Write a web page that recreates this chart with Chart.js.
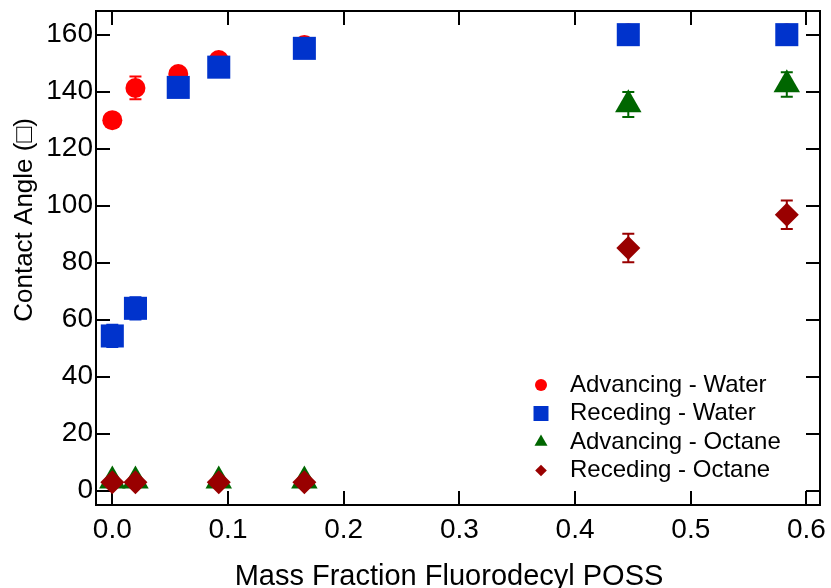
<!DOCTYPE html>
<html><head><meta charset="utf-8">
<script src="https://cdn.jsdelivr.net/npm/chart.js@4.4.0/dist/chart.umd.min.js"></script>
<style>html,body{margin:0;padding:0;background:#fff;}#wrap{width:831px;height:588px;}</style>
</head><body><div id="wrap"><canvas id="c" width="831" height="588"></canvas></div>
<script>
// ---- data ----
const xTickValues = [0, 0.1, 0.2, 0.3, 0.4, 0.5, 0.6];
const yTickValues = [0, 20, 40, 60, 80, 100, 120, 140, 160];
const seriesLabels = ['Advancing - Water', 'Receding - Water', 'Advancing - Octane', 'Receding - Octane'];
const xTitle = 'Mass Fraction Fluorodecyl POSS';
const yTitle = 'Contact Angle (\u25A1)';

const waterX = [0, 0.02, 0.057, 0.092, 0.166, 0.446, 0.583];
const advWater = [130, 141.3, 146.2, 151.1, 156.4, 160.5, 160.5];
const advWaterErr = [1.5, 4, 1.5, 1.5, 1, 1, 1];
const recWater = [54.3, 64, 141.5, 148.6, 155.2, 160, 160];
const recWaterErr = [3.9, 3.9, 2, 2, 1.5, 1, 1];

const octaneX = [0, 0.02, 0.092, 0.166, 0.446, 0.583];
const advOctane = [3.5, 3.5, 3.5, 3.5, 135.5, 142.5];
const advOctaneErr = [1, 1, 1, 1, 4.4, 4.3];
const recOctane = [3, 3, 3, 3, 85.2, 96.8];
const recOctaneErr = [1, 1, 1, 1, 5, 5];

// ---- styles ----
const FONT = "'Liberation Sans', Arial, sans-serif";
const pts = (xs, ys) => xs.map((x, i) => ({x: x, y: ys[i]}));

const datasets = [
  {label: seriesLabels[0], data: pts(waterX, advWater), errors: advWaterErr, color: '#ff0000',
   pointStyle: 'circle', pointRadius: 10, legendRadius: 6, order: 4},
  {label: seriesLabels[1], data: pts(waterX, recWater), errors: recWaterErr, color: '#0033cc',
   pointStyle: 'rect', pointRadius: 16.3, legendRadius: 10.6, order: 3},
  {label: seriesLabels[2], data: pts(octaneX, advOctane), errors: advOctaneErr, color: '#006600',
   pointStyle: 'triangle', pointRadius: 15.3, legendRadius: 7.5, order: 2},
  {label: seriesLabels[3], data: pts(octaneX, recOctane), errors: recOctaneErr, color: '#990000',
   pointStyle: 'rectRot', pointRadius: 12, legendRadius: 5.8, order: 1}
].map(d => Object.assign(d, {
  backgroundColor: d.color, borderColor: d.color, pointBackgroundColor: d.color,
  pointBorderWidth: 0, borderWidth: 0, pointHoverRadius: d.pointRadius, showLine: false, clip: 12
}));

const frame = {
  id: 'frame',
  beforeDatasetsDraw(chart) {
    const {ctx, chartArea: a, scales: {x, y}} = chart;
    const TL = 14;
    ctx.save();
    ctx.strokeStyle = '#000';
    ctx.lineWidth = 2;
    ctx.beginPath();
    xTickValues.forEach(v => {
      const px = Math.round(x.getPixelForValue(v));
      ctx.moveTo(px, a.bottom); ctx.lineTo(px, a.bottom - TL);
      ctx.moveTo(px, a.top); ctx.lineTo(px, a.top + TL);
    });
    yTickValues.forEach(v => {
      const py = Math.round(y.getPixelForValue(v));
      ctx.moveTo(a.left, py); ctx.lineTo(a.left + TL, py);
      ctx.moveTo(a.right, py); ctx.lineTo(a.right - TL, py);
    });
    ctx.stroke();
    ctx.strokeRect(a.left, a.top, a.right - a.left, a.bottom - a.top);
    ctx.restore();
  }
};

const errorBars = {
  id: 'errorBars',
  beforeDatasetDraw(chart, args) {
    const ds = chart.data.datasets[args.index];
    const {ctx, scales: {y}} = chart;
    const cap = 6;
    ctx.save();
    ctx.strokeStyle = ds.color;
    ctx.lineWidth = 2;
    ctx.beginPath();
    args.meta.data.forEach((el, i) => {
      const v = ds.data[i].y, e = ds.errors[i];
      const yt = y.getPixelForValue(v + e), yb = y.getPixelForValue(v - e);
      ctx.moveTo(el.x, yt); ctx.lineTo(el.x, yb);
      ctx.moveTo(el.x - cap, yt); ctx.lineTo(el.x + cap, yt);
      ctx.moveTo(el.x - cap, yb); ctx.lineTo(el.x + cap, yb);
    });
    ctx.stroke();
    ctx.restore();
  }
};

const legendAndTitles = {
  id: 'legendAndTitles',
  afterDraw(chart) {
    const ctx = chart.ctx;
    ctx.save();
    ctx.font = '24px ' + FONT;
    ctx.textAlign = 'left';
    ctx.textBaseline = 'middle';
    chart.data.datasets.forEach((ds, i) => {
      const yy = 385 + i * 28.5;
      ctx.fillStyle = ds.color;
      Chart.helpers.drawPoint(ctx, {pointStyle: ds.pointStyle, radius: ds.legendRadius, rotation: 0, borderWidth: 0}, 541, yy);
      ctx.fillStyle = '#000';
      ctx.fillText(ds.label, 570, yy);
    });
    // x axis title
    ctx.font = '29px ' + FONT;
    ctx.textAlign = 'center';
    ctx.fillText(xTitle, 449, 577);
    // y axis title
    ctx.translate(25, 220);
    ctx.rotate(-Math.PI / 2);
    ctx.font = '26px ' + FONT;
    ctx.fillText(yTitle, 0, 0);
    ctx.restore();
  }
};

const noPad = s => { s.paddingTop = 0; s.paddingBottom = 0; s.paddingLeft = 0; s.paddingRight = 0; };

new Chart(document.getElementById('c'), {
  type: 'scatter',
  data: {datasets},
  options: {
    responsive: false,
    animation: false,
    devicePixelRatio: 1,
    layout: {autoPadding: false, padding: {left: 0, top: 11, right: 11, bottom: 0}},
    plugins: {legend: {display: false}, tooltip: {enabled: false}},
    scales: {
      x: {
        type: 'linear', min: -0.0141, max: 0.6117,
        afterBuildTicks: s => { s.ticks = xTickValues.map(v => ({value: v})); },
        afterFit: s => { s.height = 83; noPad(s); },
        grid: {display: false, drawTicks: false},
        border: {display: false},
        ticks: {font: {family: FONT, size: 28}, color: '#000', padding: 8, maxRotation: 0,
                callback: v => Number(v).toFixed(1)}
      },
      y: {
        type: 'linear', min: -5, max: 168.3,
        afterBuildTicks: s => { s.ticks = yTickValues.map(v => ({value: v})); },
        afterFit: s => { s.width = 96; noPad(s); },
        grid: {display: false, drawTicks: false},
        border: {display: false},
        ticks: {font: {family: FONT, size: 28}, color: '#000', padding: 3,
                callback: v => String(v)}
      }
    }
  },
  plugins: [frame, errorBars, legendAndTitles]
});
</script></body></html>
